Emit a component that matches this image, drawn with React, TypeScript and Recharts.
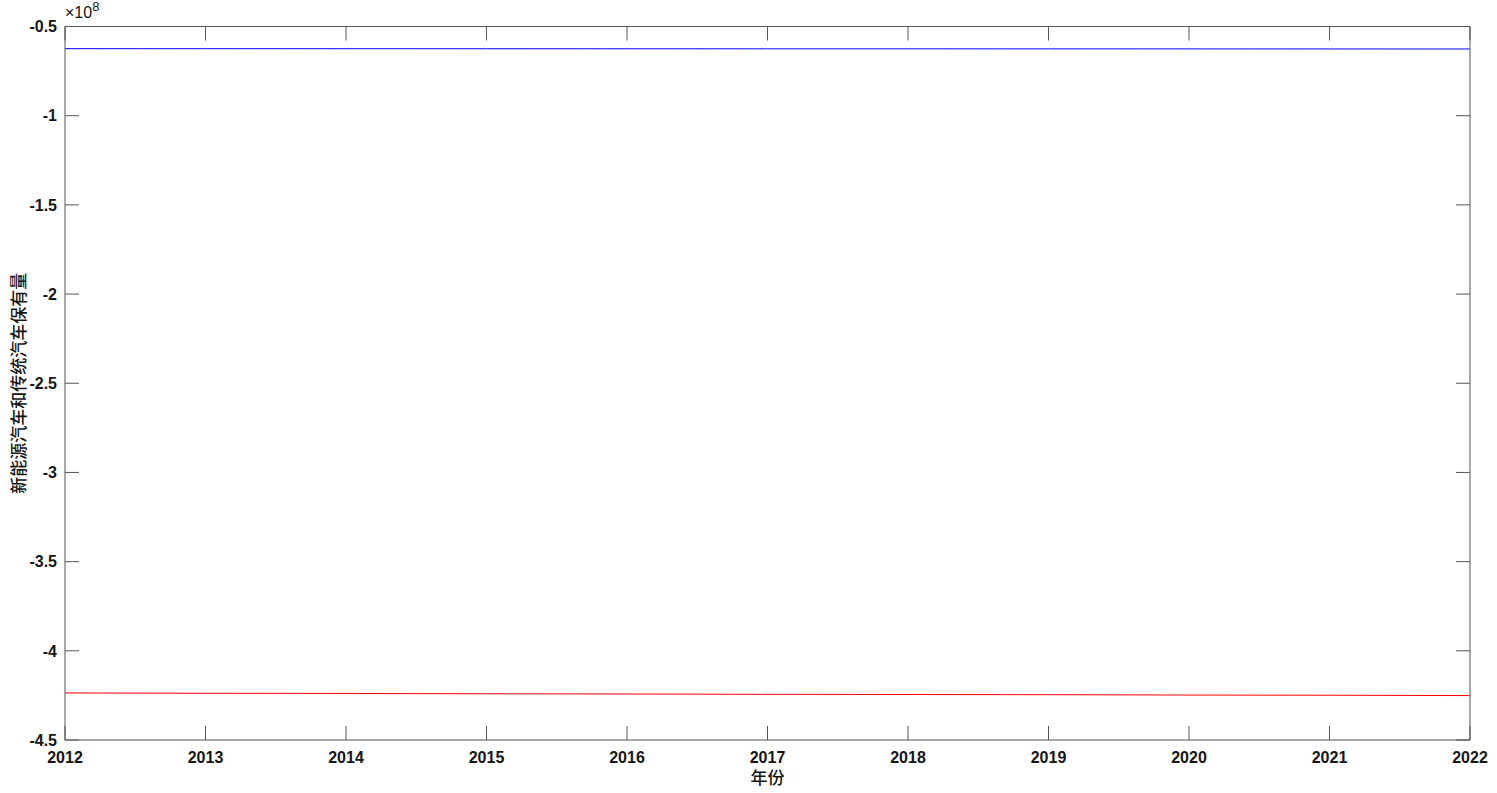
import { Line, LineChart, XAxis, YAxis } from "recharts";

// values in units of 1e8
const years = [2012, 2013, 2014, 2015, 2016, 2017, 2018, 2019, 2020, 2021, 2022];
const blueSeries = [
  -0.6243, -0.6244, -0.6246, -0.6247, -0.6249, -0.6251, -0.6252, -0.6254, -0.6256, -0.6258, -0.626,
];
const redSeries = [
  -4.236, -4.238, -4.239, -4.241, -4.242, -4.244, -4.245, -4.246, -4.248, -4.249, -4.251,
];
const yTicks = [-4.5, -4, -3.5, -3, -2.5, -2, -1.5, -1, -0.5];

const data = years.map((year, i) => ({
  year,
  blue: blueSeries[i],
  red: redSeries[i],
}));

const AXIS = "#555555";
const TICK_LEN = 14;
const FONT = "'Liberation Sans', Arial, Helvetica, sans-serif";
const CJK = "'Noto Sans CJK SC', sans-serif";

function LeftTick(props: any) {
  const { x, y, payload } = props;
  const ax = x + 8;
  return (
    <g>
      <line x1={ax} y1={y} x2={ax + TICK_LEN} y2={y} stroke={AXIS} />
      <text x={x} y={y} dy="0.36em" textAnchor="end" fontSize={16} fontWeight="bold" fontFamily={FONT} fill="#151515">
        {String(payload.value)}
      </text>
    </g>
  );
}

function BottomTick(props: any) {
  const { x, y, payload } = props;
  return (
    <g>
      <line x1={x} y1={y} x2={x} y2={y - TICK_LEN} stroke={AXIS} />
      <text x={x} y={y + 23} textAnchor="middle" fontSize={16} fontWeight="bold" fontFamily={FONT} fill="#151515">
        {String(payload.value)}
      </text>
    </g>
  );
}

function TopTick(props: any) {
  const { x, y } = props;
  return <line x1={x} y1={y} x2={x} y2={y + TICK_LEN} stroke={AXIS} />;
}

function RightTick(props: any) {
  const { x, y } = props;
  return <line x1={x} y1={y} x2={x - TICK_LEN} y2={y} stroke={AXIS} />;
}

function YTitle(props: any) {
  const vb = props.viewBox;
  const cx = vb.x + 12;
  const cy = vb.y + vb.height / 2;
  const right = vb.x + vb.width;
  return (
    <g>
      <text
        x={cx}
        y={cy}
        transform={`rotate(-90, ${cx}, ${cy})`}
        textAnchor="middle"
        dominantBaseline="central"
        fontSize={17}
        fontWeight={500}
        fontFamily={CJK}
        fill="#151515"
      >
        新能源汽车和传统汽车保有量
      </text>
      <text x={right} y={vb.y - 8.5} fontSize={16} fontFamily={FONT} fill="#151515">
        ×10
        <tspan dy={-7} fontSize={13}>
          8
        </tspan>
      </text>
    </g>
  );
}

function XTitle(props: any) {
  const vb = props.viewBox;
  return (
    <text
      x={vb.x + vb.width / 2}
      y={vb.y + 44}
      textAnchor="middle"
      fontSize={17}
      fontWeight={500}
      fontFamily={CJK}
      fill="#151515"
    >
      年份
    </text>
  );
}

export default function App() {
  return (
    <div style={{ position: "absolute", left: 0, top: 0, width: 1497, height: 793, background: "#fff" }}>
      <LineChart
        width={1497}
        height={793}
        data={data}
        margin={{ top: 25.5, right: 26, bottom: 3, left: 5 }}
      >
        <XAxis
          xAxisId="b"
          dataKey="year"
          type="number"
          domain={[2012, 2022]}
          ticks={years}
          interval={0}
          height={50}
          tickSize={0}
          tickMargin={0}
          tick={BottomTick}
          axisLine={{ stroke: AXIS }}
          label={{ content: XTitle }}
        />
        <XAxis
          xAxisId="t"
          orientation="top"
          dataKey="year"
          type="number"
          domain={[2012, 2022]}
          ticks={years}
          interval={0}
          height={1}
          tickSize={0}
          tickMargin={0}
          tick={TopTick}
          axisLine={{ stroke: AXIS }}
        />
        <YAxis
          yAxisId="l"
          type="number"
          domain={[-4.5, -0.5]}
          ticks={yTicks}
          interval={0}
          allowDataOverflow
          width={60}
          tickSize={0}
          tickMargin={8}
          tick={LeftTick}
          axisLine={{ stroke: AXIS }}
          label={{ content: YTitle }}
        />
        <YAxis
          yAxisId="r"
          orientation="right"
          type="number"
          domain={[-4.5, -0.5]}
          ticks={yTicks}
          interval={0}
          allowDataOverflow
          width={1}
          tickSize={0}
          tickMargin={0}
          tick={RightTick}
          axisLine={{ stroke: AXIS }}
        />
        <Line
          xAxisId="b"
          yAxisId="l"
          dataKey="blue"
          stroke="#0000ff"
          strokeWidth={1}
          dot={false}
          isAnimationActive={false}
        />
        <Line
          xAxisId="b"
          yAxisId="l"
          dataKey="red"
          stroke="#ff0000"
          strokeWidth={1}
          dot={false}
          isAnimationActive={false}
        />
      </LineChart>
    </div>
  );
}
